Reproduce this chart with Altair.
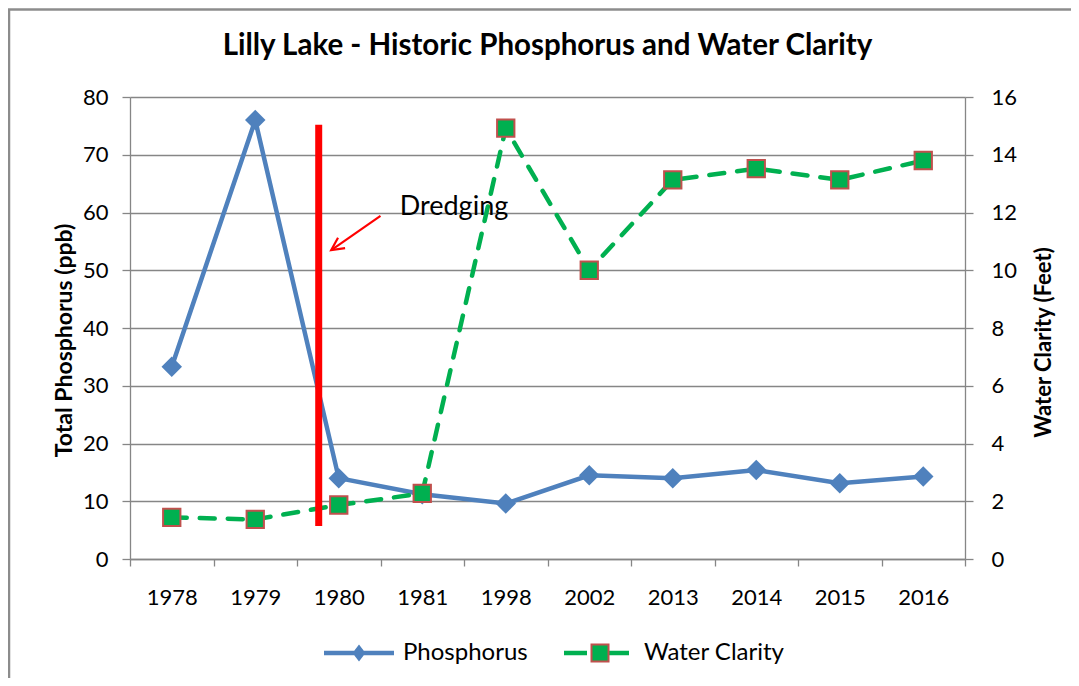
import altair as alt
import pandas as pd

# ---------------- data ----------------
years = ["1978", "1979", "1980", "1981", "1998", "2002", "2013", "2014", "2015", "2016"]
phosphorus = [33.3, 76.0, 14.0, 11.2, 9.6, 14.5, 14.0, 15.4, 13.1, 14.3]
water_clarity = [1.44, 1.37, 1.87, 2.27, 14.92, 10.0, 13.13, 13.52, 13.13, 13.8]
series_names = ["Phosphorus", "Water Clarity"]

# dredging annotation (x in category-index units, y in ppb)
dredge_x = [1.76]
dredge_top = [75.2]
dredge_bottom = [5.7]
arrow_x_start = [2.50]
arrow_y_start = [59.4]
arrow_x_end = [1.91]
arrow_y_end = [53.5]
note_text = ["Dredging"]
note_x = [2.73]
note_y = [61.0]

# ---------------- styles ----------------
FONT = "Lato"
BLUE = "#4F81BD"
GREEN = "#00B050"
BORDER = "#C0504D"
RED = "#FF0000"
GRAY = "#868686"

df = pd.DataFrame({"year": years, "phosphorus": phosphorus, "clarity": water_clarity})

x_scale = alt.Scale(type="band", domain=years, paddingInner=0, paddingOuter=0)
x_axis = alt.Axis(
    orient="bottom", title=None, labelAngle=0, tickBand="extent", tickSize=7,
    tickColor=GRAY, tickWidth=1.3, domainColor=GRAY, domainWidth=1.3,
    labelFont=FONT, labelFontSize=22, labelColor="#000000", labelPadding=21, grid=False,
)
x_enc = alt.X("year:N", scale=x_scale, axis=x_axis)
x_enc_noaxis = alt.X("year:N", scale=x_scale, axis=None)

left_axis = alt.Axis(
    orient="left", values=list(range(0, 81, 10)), grid=True, gridColor=GRAY, gridWidth=1.3,
    domainColor=GRAY, domainWidth=1.3, tickColor=GRAY, tickWidth=1.3, tickSize=8,
    labelFont=FONT, labelFontSize=22, labelColor="#000000", labelPadding=14,
    title="Total Phosphorus (ppb)", titleFont=FONT, titleFontSize=23, titleFontWeight="bold",
    titleColor="#000000", titleAngle=270, titleX=-66, titleY=243, titleAlign="center",
    titleBaseline="middle",
)
right_axis = alt.Axis(
    orient="right", values=list(range(0, 17, 2)), grid=False,
    domainColor=GRAY, domainWidth=1.3, tickColor=GRAY, tickWidth=1.3, tickSize=8,
    labelFont=FONT, labelFontSize=22, labelColor="#000000", labelPadding=18,
    title="Water Clarity (Feet)", titleFont=FONT, titleFontSize=22, titleFontWeight="bold",
    titleColor="#000000", titleAngle=270, titleX=78, titleY=245, titleAlign="center",
    titleBaseline="middle",
)
y_left = alt.Y("phosphorus:Q", scale=alt.Scale(domain=[0, 80], nice=False), axis=left_axis)
y_right = alt.Y("clarity:Q", scale=alt.Scale(domain=[0, 16], nice=False), axis=right_axis)

base = alt.Chart(df)
phos_line = base.mark_line(color=BLUE, strokeWidth=4.5).encode(x=x_enc, y=y_left)
phos_pts = base.mark_point(shape="diamond", filled=True, size=420, color=BLUE, opacity=1).encode(x=x_enc, y=y_left)
left = alt.layer(phos_line, phos_pts)

wc_line = base.mark_line(color=GREEN, strokeWidth=4.5, strokeDash=[15, 13], strokeCap="round").encode(x=x_enc_noaxis, y=y_right)
wc_pts = base.mark_square(size=300, fill=GREEN, stroke=BORDER, strokeWidth=2, opacity=1).encode(x=x_enc_noaxis, y=y_right)
right = alt.layer(wc_line, wc_pts)

# annotation layer: category-index x scale aligned with the band centres
idx_scale = alt.Scale(domain=[-0.5, len(years) - 0.5], nice=False, zero=False)
ann_y_scale = alt.Scale(domain=[0, 80], nice=False)

dredge_df = pd.DataFrame({"x": dredge_x, "top": dredge_top, "bottom": dredge_bottom})
arrow_df = pd.DataFrame({"x": arrow_x_start, "y": arrow_y_start, "xe": arrow_x_end, "ye": arrow_y_end})
note_df = pd.DataFrame({"x": note_x, "y": note_y, "t": note_text})

dredge = alt.Chart(dredge_df).mark_rule(color=RED, strokeWidth=7).encode(
    x=alt.X("x:Q", scale=idx_scale, axis=None),
    y=alt.Y("top:Q", scale=ann_y_scale, axis=None),
    y2="bottom:Q",
)
shaft = alt.Chart(arrow_df).mark_rule(color=RED, strokeWidth=2.2).encode(
    x=alt.X("x:Q", scale=idx_scale, axis=None),
    y=alt.Y("y:Q", scale=ann_y_scale, axis=None),
    x2="xe:Q",
    y2="ye:Q",
)
head = alt.Chart(arrow_df).mark_point(
    shape="M-0.7,1.4L0,0L0.7,1.4", filled=False, size=320, color=RED,
    strokeWidth=2.2, angle=235.6, opacity=1,
).encode(
    x=alt.X("xe:Q", scale=idx_scale, axis=None),
    y=alt.Y("ye:Q", scale=ann_y_scale, axis=None),
)
note = alt.Chart(note_df).mark_text(
    align="left", baseline="middle", font=FONT, fontSize=27, color="#000000"
).encode(
    x=alt.X("x:Q", scale=idx_scale, axis=None),
    y=alt.Y("y:Q", scale=ann_y_scale, axis=None),
    text="t:N",
)
annot = alt.layer(dredge, shaft, head, note)

# ---------------- legend (custom symbols) ----------------
P_PATH = "M-3.5,-0.22H3.5V0.22H-3.5Z M-0.65,0L0,-0.85L0.65,0L0,0.85Z"
W_PATH = "M-3.6,-0.22H-1.3V0.22H-3.6Z M0.9,-0.22H2.9V0.22H0.9Z M-0.85,-0.85H0.85V0.85H-0.85Z"
B_PATH = "M-0.85,-0.85H0.85V0.85H-0.85Z"
LEG_Y = 544


def legend_layer(name, path, filled, color, stroke_w, lx, label_opacity):
    d = pd.DataFrame({"series": [name]})
    return alt.Chart(d).transform_filter("false").mark_point(
        filled=filled, color=color, size=400, opacity=1, strokeWidth=stroke_w
    ).encode(
        shape=alt.Shape(
            "series:N",
            scale=alt.Scale(domain=[name], range=[path]),
            legend=alt.Legend(
                orient="none", legendX=lx, legendY=LEG_Y, title=None, padding=0,
                symbolSize=400, symbolOpacity=1, symbolStrokeWidth=stroke_w,
                labelFont=FONT, labelFontSize=24, labelColor="#000000",
                labelOffset=32, labelLimit=400, labelOpacity=label_opacity,
            ),
        )
    )


leg_p = legend_layer(series_names[0], P_PATH, True, BLUE, 0, 217, 1)
leg_w = legend_layer(series_names[1], W_PATH, True, GREEN, 0, 458, 1)
leg_b = legend_layer(series_names[1] + " ", B_PATH, False, BORDER, 2, 458, 0)

# outer chart frame (left and top edges, as in the cropped reference)
frame_df = pd.DataFrame({"frame": [0]})
frame_left = alt.Chart(frame_df).mark_rule(color="#8C8C8C", strokeWidth=2.5).encode(
    x=alt.value(-121), y=alt.value(-88), y2=alt.value(581)
)
frame_top = alt.Chart(frame_df).mark_rule(color="#8C8C8C", strokeWidth=2.5).encode(
    x=alt.value(-122), x2=alt.value(941), y=alt.value(-87.5)
)

chart = alt.layer(left, right, annot, leg_p, leg_w, leg_b, frame_left, frame_top).resolve_scale(
    x="independent", y="independent", shape="independent"
).properties(
    width=835,
    height=462,
    padding={"left": 122, "top": 89, "right": 106, "bottom": 119},
    autosize=alt.AutoSizeParams(type="none"),
    title=alt.TitleParams(
        "Lilly Lake - Historic Phosphorus and Water Clarity",
        font=FONT, fontSize=29.5, fontWeight="bold", color="#000000",
        anchor="middle", frame="group", baseline="alphabetic", offset=-45, dy=32,
    ),
).configure(font=FONT).configure_view(stroke=None)

chart.save("out.html", embed_options={"renderer": "svg", "actions": False})
